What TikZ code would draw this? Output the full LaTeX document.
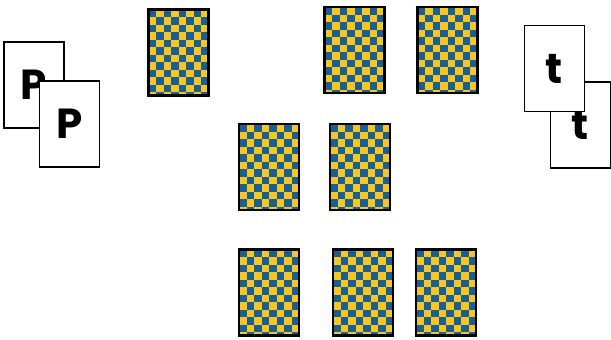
\documentclass[tikz,border=0pt]{standalone}
\usepackage{fontspec}
\setsansfont{Poppins}
\usepackage{tikz}
\usetikzlibrary{positioning}
\definecolor{chkblue}{HTML}{1A5F91}
\definecolor{chkyellow}{HTML}{F8C623}
\tikzset{
  cardback/.style={draw=black, line width=2.2pt, fill=chkyellow, minimum width=60pt, minimum height=86pt, inner sep=0pt,
    path picture={
      \foreach \col in {0,...,8}{
        \foreach \row in {0,...,11}{
          \pgfmathtruncatemacro{\odd}{mod(\col+\row,2)}
          \ifnum\odd=0
            \fill[chkblue] ([xshift=\col*7.5pt, yshift=-\row*7.5pt]path picture bounding box.north west) rectangle ++(7.5pt,-7.5pt);
          \fi
        }}
    }},
  facecard/.style={draw=black, line width=1.3pt, fill=white, minimum width=60pt, minimum height=86pt, inner sep=0pt, font=\sffamily\bfseries\fontsize{42}{42}\selectfont},
  tcard/.style={facecard, font=\sffamily\bfseries\fontsize{42}{42}\selectfont}
}
\begin{document}
\begin{tikzpicture}[x=1pt, y=-1pt]
  \useasboundingbox (0,0) rectangle (611,340);

  % left pair
  \node[facecard] at (34,85) (pback) {P};
  \node[facecard] at (69.5,124) (pfront) {P};

  % right pair
  \node[tcard] at (580.5,125) (tback) {t};
  \node[tcard] at (554.5,68.5) (tfront) {t};

  % face-down cards
  \node[cardback] at (178.5,52.5) (back1) {};
  \node[cardback] at (354.5,50) (back2) {};
  \node[cardback] at (447.5,50) (back3) {};
  \node[cardback] at (269,167) (back4) {};
  \node[cardback] at (360,167) (back5) {};
  \node[cardback] at (269,292.5) (back6) {};
  \node[cardback] at (363,292.5) (back7) {};
  \node[cardback] at (446,292.5) (back8) {};
\end{tikzpicture}
\end{document}
